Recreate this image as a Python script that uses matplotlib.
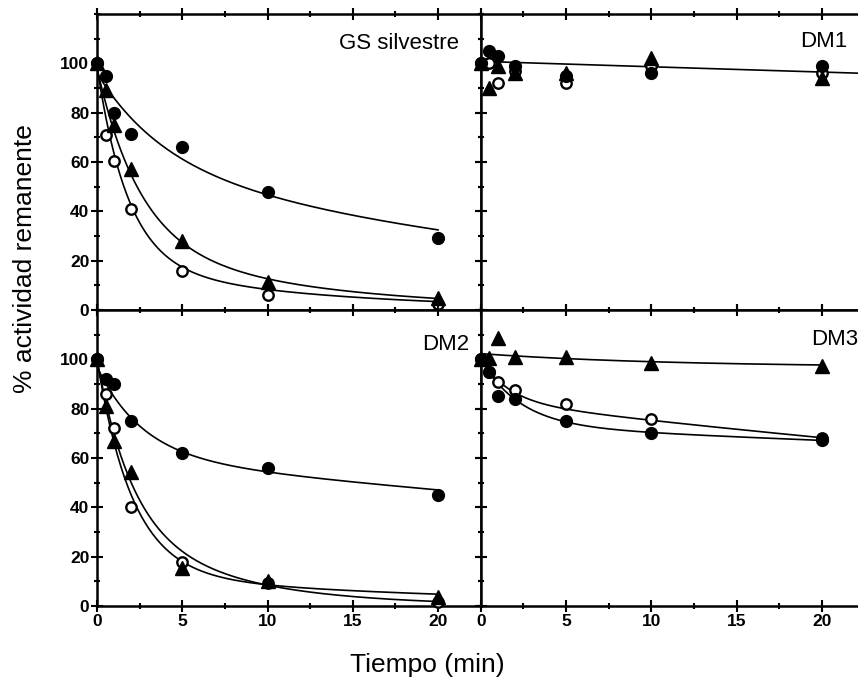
import numpy as np
import matplotlib
matplotlib.use("Agg")
import matplotlib.pyplot as plt
from matplotlib.ticker import MultipleLocator

plt.rcParams['font.family'] = ['Liberation Sans', 'DejaVu Sans']

# sampling times (min)
t = [0, 0.5, 1, 2, 5, 10, 20]

# % remaining activity, three conditions per enzyme
gs_circ = [100, 95, 80, 71.5, 66, 48, 29]
gs_tri = [100, 89, 75, 57, 28, 11.4, 4.7]
gs_open = [100, 71, 60.5, 41, 15.7, 6, 2.4]

dm1_circ = [100, 105, 103, 99, 95, 96, 99]
dm1_tri = [100, 90, 99, 96, 96, 102, 94]
dm1_open = [100, 100, 92, 97, 92, 99, 96]

dm2_circ = [100, 92, 90, 75, 62, 56, 45]
dm2_tri = [100, 81, 67, 54.4, 15.3, 10.3, 3.8]
dm2_open = [100, 86, 72, 40, 18, 9.3, 1.8]

dm3_circ = [100, 95, 85, 84, 75, 70, 67.5]
dm3_tri = [100, 100.5, 108.5, 101, 101, 98.5, 97.5]
dm3_open = [100, 95, 91, 87.5, 82, 76, 68]

# biexponential fits y = a1*exp(-k1 t) + a2*exp(-k2 t), order: circ, tri, open
gs_a1 = [36, 70, 80]
gs_k1 = [0.26, 0.40, 0.55]
gs_a2 = [60, 28, 18.8]
gs_k2 = [0.031, 0.09, 0.0856]

dm1_a1 = [0]
dm1_k1 = [0]
dm1_a2 = [100.8]
dm1_k2 = [0.0022]

dm2_a1 = [36, 87, 64.5]
dm2_k1 = [0.38, 0.48, 0.5]
dm2_a2 = [61, 13, 35.5]
dm2_k2 = [0.013, 0.05, 0.149]

dm3_a1 = [27, 5.5, 17]
dm3_k1 = [0.43, 0.09, 0.6]
dm3_a2 = [73, 96.8, 83]
dm3_k2 = [0.0042, 0.0, 0.0098]

W, H = 858, 690
fig = plt.figure(figsize=(W / 100, H / 100), dpi=100)

x0L, xdiv = 97, 480.7
axw = (xdiv - x0L) / W
axh = 296 / H
pos = {
    "GS silvestre": [x0L / W, (H - 310) / H, axw, axh],
    "DM1": [xdiv / W, (H - 310) / H, axw, axh],
    "DM2": [x0L / W, (H - 606) / H, axw, axh],
    "DM3": [xdiv / W, (H - 606) / H, axw, axh],
}

panels = [
    ("GS silvestre", (gs_circ, gs_tri, gs_open), (gs_a1, gs_k1, gs_a2, gs_k2), 20, (21.2, 108, "right")),
    ("DM1", (dm1_circ, dm1_tri, dm1_open), (dm1_a1, dm1_k1, dm1_a2, dm1_k2), 23, (21.5, 109, "right")),
    ("DM2", (dm2_circ, dm2_tri, dm2_open), (dm2_a1, dm2_k1, dm2_a2, dm2_k2), 20, (21.8, 106, "right")),
    ("DM3", (dm3_circ, dm3_tri, dm3_open), (dm3_a1, dm3_k1, dm3_a2, dm3_k2), 20, (19.4, 108, "left")),
]

# circ, tri, open; open circles sit underneath the filled ones
styles = [
    dict(marker="o", color="k", markersize=8.5, zorder=5),
    dict(marker="^", color="k", markersize=9.5, zorder=6),
    dict(marker="o", markerfacecolor="white", markeredgecolor="k", markeredgewidth=1.7,
         markersize=7.5, zorder=4),
]

for name, series, fit, tmax, (lx, ly, lha) in panels:
    ax = fig.add_axes(pos[name])
    tt = np.linspace(0, tmax, 300)
    a1, k1, a2, k2 = fit
    for i in range(len(a1)):
        yy = a1[i] * np.exp(-k1[i] * tt) + a2[i] * np.exp(-k2[i] * tt)
        ax.plot(tt, yy, color="k", lw=1.2, zorder=2)
    for y, st in zip(series, styles):
        ax.plot(t, y, linestyle="none", clip_on=False, **st)

    ax.set_xlim(0, 22.5)
    ax.set_ylim(0, 120)
    ax.set_xticks([0, 5, 10, 15, 20])
    ax.set_yticks([0, 20, 40, 60, 80, 100])
    ax.xaxis.set_minor_locator(MultipleLocator(2.5))
    ax.yaxis.set_minor_locator(MultipleLocator(10))
    ax.tick_params(which="both", direction="inout", top=True, right=True, width=1.5)
    ax.tick_params(which="major", length=8, pad=1.5, labelsize=12.5)
    ax.tick_params(which="minor", length=4)
    for lab in ax.get_xticklabels() + ax.get_yticklabels():
        lab.set_fontweight("bold")
    for sp in ax.spines.values():
        sp.set_linewidth(1.8)
    if name in ("GS silvestre", "DM1"):
        ax.tick_params(labelbottom=False)
    if name in ("DM1", "DM3"):
        ax.tick_params(labelleft=False)
    ax.text(lx, ly, name, ha=lha, va="center", fontsize=16)

fig.text(25 / W, 1 - 259 / H, "% actividad remanente", rotation=90, ha="center", va="center", fontsize=19)
fig.text(427 / W, 1 - 665 / H, "Tiempo (min)", ha="center", va="center", fontsize=19)

fig.savefig("out.png", dpi=100)
